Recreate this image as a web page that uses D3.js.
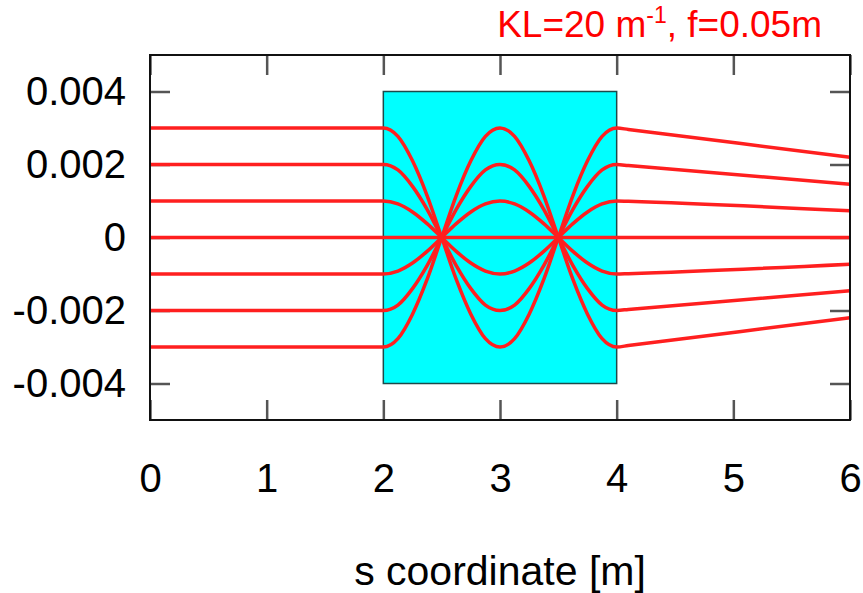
<!DOCTYPE html>
<html>
<head>
<meta charset="utf-8">
<script src="https://cdn.jsdelivr.net/npm/d3@7"></script>
<style>
  body { margin: 0; background: #fff; }
  text { font-family: "Liberation Sans", Arial, Helvetica, sans-serif; }
</style>
</head>
<body>
<div id="chart"></div>
<script>
const sNodes = [0, 2, 2.125, 2.25, 2.375, 2.5, 2.625, 2.75, 2.875, 3,
                3.125, 3.25, 3.375, 3.5, 3.625, 3.75, 3.875, 4, 4.1, 6];

// transverse offsets [m] of each ray
const rayP3 = [0.003, 0.003, 0.00277, 0.0021, 0.00115, 0, -0.00115, -0.0021, -0.00277, -0.003,
               -0.00277, -0.0021, -0.00115, 0, 0.00115, 0.0021, 0.00277, 0.003, 0.00296, 0.0022];
const rayP2 = [0.002, 0.002, 0.00185, 0.0014, 0.00077, 0, -0.00077, -0.0014, -0.00185, -0.002,
               -0.00185, -0.0014, -0.00077, 0, 0.00077, 0.0014, 0.00185, 0.002, 0.00197, 0.00146];
const rayP1 = [0.001, 0.001, 0.00092, 0.0007, 0.00038, 0, -0.00038, -0.0007, -0.00092, -0.001,
               -0.00092, -0.0007, -0.00038, 0, 0.00038, 0.0007, 0.00092, 0.001, 0.00099, 0.00073];
const ray0  = [0, 0, 0, 0, 0, 0, 0, 0, 0, 0, 0, 0, 0, 0, 0, 0, 0, 0, 0, 0];
const rayM1 = [-0.001, -0.001, -0.00092, -0.0007, -0.00038, 0, 0.00038, 0.0007, 0.00092, 0.001,
               0.00092, 0.0007, 0.00038, 0, -0.00038, -0.0007, -0.00092, -0.001, -0.00099, -0.00073];
const rayM2 = [-0.002, -0.002, -0.00185, -0.0014, -0.00077, 0, 0.00077, 0.0014, 0.00185, 0.002,
               0.00185, 0.0014, 0.00077, 0, -0.00077, -0.0014, -0.00185, -0.002, -0.00197, -0.00146];
const rayM3 = [-0.003, -0.003, -0.00277, -0.0021, -0.00115, 0, 0.00115, 0.0021, 0.00277, 0.003,
               0.00277, 0.0021, 0.00115, 0, -0.00115, -0.0021, -0.00277, -0.003, -0.00296, -0.0022];
const rays = [rayP3, rayP2, rayP1, ray0, rayM1, rayM2, rayM3];

// the quadrupole block
const magnetS = [2, 4];
const magnetY = [-0.004, 0.004];

const xTicks = [0, 1, 2, 3, 4, 5, 6];
const yTicks = [-0.004, -0.002, 0, 0.002, 0.004];
const yTickLabels = ["-0.004", "-0.002", "0", "0.002", "0.004"];

const W = 863, H = 593;
const margin = {top: 55, right: 13, bottom: 173, left: 150};

const svg = d3.select("#chart")
    .append("svg")
    .attr("width", W)
    .attr("height", H);

const x = d3.scaleLinear()
    .domain([0, 6])
    .range([margin.left, W - margin.right]);

const y = d3.scaleLinear()
    .domain([-0.005, 0.005])
    .range([H - margin.bottom, margin.top]);

const tickLen = 20;

// axes with inward ticks
const styleAxis = g => {
    g.select(".domain").remove();
    g.selectAll(".tick line").attr("stroke", "#555").attr("stroke-width", 2.5);
    g.selectAll(".tick text")
        .attr("fill", "#000")
        .style("font-size", "40px");
};

svg.append("g")
    .attr("transform", "translate(0," + y.range()[0] + ")")
    .call(d3.axisBottom(x).tickValues(xTicks).tickSize(-tickLen).tickPadding(44).tickFormat(d3.format("d")))
    .call(styleAxis);

svg.append("g")
    .attr("transform", "translate(0," + y.range()[1] + ")")
    .call(d3.axisTop(x).tickValues(xTicks).tickSize(-tickLen).tickFormat(""))
    .call(styleAxis);

svg.append("g")
    .attr("transform", "translate(" + x.range()[0] + ",0)")
    .call(d3.axisLeft(y).tickValues(yTicks).tickSize(-tickLen).tickPadding(24)
        .tickFormat((d, i) => yTickLabels[i]))
    .call(styleAxis);

svg.append("g")
    .attr("transform", "translate(" + x.range()[1] + ",0)")
    .call(d3.axisRight(y).tickValues(yTicks).tickSize(-tickLen).tickFormat(""))
    .call(styleAxis);

// magnet
svg.append("rect")
    .attr("x", x(magnetS[0]))
    .attr("y", y(magnetY[1]))
    .attr("width", x(magnetS[1]) - x(magnetS[0]))
    .attr("height", y(magnetY[0]) - y(magnetY[1]))
    .attr("fill", "#00ffff")
    .attr("stroke", "#1d4a4a")
    .attr("stroke-width", 1.5);

// rays
const line = d3.line()
    .x((d, i) => x(sNodes[i]))
    .y(d => y(d))
    .curve(d3.curveMonotoneX);

svg.selectAll(".ray")
    .data(rays)
    .enter()
    .append("path")
    .attr("class", "ray")
    .attr("d", line)
    .attr("fill", "none")
    .attr("stroke", "#ff1f1f")
    .attr("stroke-width", 3.5);

// frame
svg.append("rect")
    .attr("x", x.range()[0])
    .attr("y", y.range()[1])
    .attr("width", x.range()[1] - x.range()[0])
    .attr("height", y.range()[0] - y.range()[1])
    .attr("fill", "none")
    .attr("stroke", "#111")
    .attr("stroke-width", 2);

// axis title
svg.append("text")
    .attr("x", (x.range()[0] + x.range()[1]) / 2)
    .attr("y", 585)
    .attr("text-anchor", "middle")
    .style("font-size", "41px")
    .attr("fill", "#000")
    .text("s coordinate [m]");

// label at top right
const title = svg.append("text")
    .attr("x", 822)
    .attr("y", 37)
    .attr("text-anchor", "end")
    .style("font-size", "37px")
    .attr("fill", "#ff0000");
title.append("tspan").text("KL=20 m");
title.append("tspan").attr("dy", -14).style("font-size", "23px").text("-1");
title.append("tspan").attr("dy", 14).text(", f=0.05m");
</script>
</body>
</html>
